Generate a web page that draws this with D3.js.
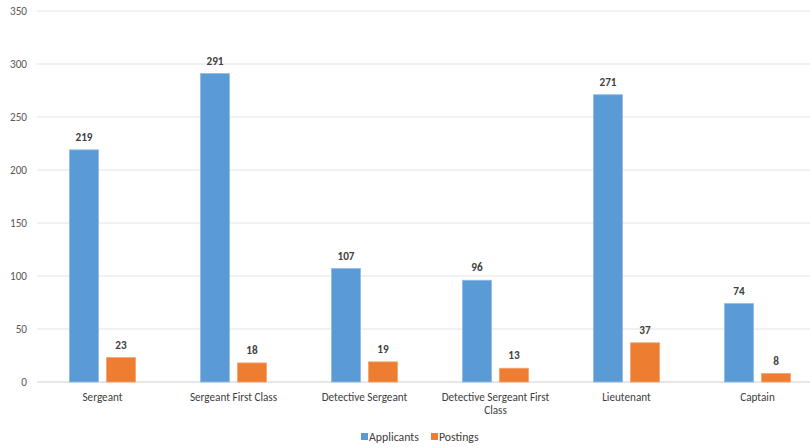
<!DOCTYPE html>
<html>
<head>
<meta charset="utf-8">
<script src="https://cdn.jsdelivr.net/npm/d3@7"></script>
<style>
  html, body { margin: 0; padding: 0; background: #fff; }
  svg { display: block; font-family: Carlito, Lato, "Open Sans", sans-serif; }
</style>
</head>
<body>
<svg id="chart" width="810" height="448"></svg>
<script>
// Promotion exam: applicants vs. postings by rank
const categories = ["Sergeant", "Sergeant First Class", "Detective Sergeant",
  "Detective Sergeant First Class", "Lieutenant", "Captain"];
const seriesNames = ["Applicants", "Postings"];
const applicants = [219, 291, 107, 96, 271, 74];
const postings = [23, 18, 19, 13, 37, 8];
const yTicks = [0, 50, 100, 150, 200, 250, 300, 350];
const colors = ["#5B9BD5", "#ED7D31"];

const svg = d3.select("#chart");
const plot = { left: 37, right: 823, top: 11, bottom: 382 };
const fs = 11.2;

const x = d3.scaleBand().domain(categories).range([plot.left, plot.right]).padding(0);
const inner = d3.scaleBand().domain(seriesNames).range([0, 66]).paddingInner(0.216);
const y = d3.scaleLinear().domain([0, 350]).range([plot.bottom, plot.top]);

// gridlines
svg.append("g").selectAll("line").data(yTicks).join("line")
  .attr("x1", plot.left).attr("x2", 810)
  .attr("y1", d => y(d)).attr("y2", d => y(d))
  .attr("stroke", d => d === 0 ? "#D0D0D0" : "#E3E3E3").attr("stroke-width", 1.2);

// y axis labels
const yAxis = d3.axisLeft(y).tickValues(yTicks).tickSize(0).tickPadding(0);
const ya = svg.append("g").attr("transform", `translate(${plot.left - 10},0)`).call(yAxis);
ya.select(".domain").remove();
ya.selectAll("text").attr("font-size", fs).attr("fill", "#595959")
  .attr("font-family", "Carlito, Lato, 'Open Sans', sans-serif");

const rows = categories.map((c, i) => ({ c, vals: [applicants[i], postings[i]] }));

const groups = svg.append("g").selectAll("g").data(rows).join("g")
  .attr("transform", d => `translate(${x(d.c) + x.bandwidth() / 2 - 33},0)`);

groups.selectAll("rect").data(d => d.vals.map((v, j) => ({ v, s: seriesNames[j], j })))
  .join("rect")
  .attr("x", d => inner(d.s))
  .attr("width", inner.bandwidth())
  .attr("y", d => y(d.v))
  .attr("height", d => y(0) - y(d.v))
  .attr("fill", d => colors[d.j])
  .attr("stroke", d => d.j === 0 ? "#8DBBE6" : "#F4A46E")
  .attr("stroke-width", 0.8);

groups.selectAll("text.val").data(d => d.vals.map((v, j) => ({ v, s: seriesNames[j] })))
  .join("text").attr("class", "val")
  .attr("x", d => inner(d.s) + inner.bandwidth() / 2)
  .attr("y", d => y(d.v) - 9)
  .attr("text-anchor", "middle")
  .attr("font-size", fs).attr("font-weight", "bold").attr("fill", "#404040")
  .text(d => d.v);

// category labels, wrapped when too wide for the band
const catG = svg.append("g");
categories.forEach(c => {
  const cx = x(c) + x.bandwidth() / 2;
  const t = catG.append("text").attr("x", cx).attr("y", 401)
    .attr("text-anchor", "middle").attr("font-size", fs).attr("fill", "#404040");
  const words = c.split(" ");
  let line = [], lines = [];
  const probe = catG.append("text").attr("font-size", fs);
  words.forEach(w => {
    const test = line.concat(w).join(" ");
    probe.text(test);
    if (probe.node().getComputedTextLength() > 125 && line.length) {
      lines.push(line.join(" ")); line = [w];
    } else line.push(w);
  });
  lines.push(line.join(" "));
  probe.remove();
  lines.forEach((l, k) => t.append("tspan").attr("x", cx).attr("dy", k ? 13 : 0).text(l));
});

// legend
const legend = svg.append("g");
const items = [{ n: seriesNames[0], x: 361 }, { n: seriesNames[1], x: 431 }];
items.forEach((it, i) => {
  legend.append("rect").attr("x", it.x).attr("y", 433).attr("width", 7).attr("height", 7)
    .attr("fill", colors[i]);
  legend.append("text").attr("x", it.x + 8).attr("y", 441)
    .attr("font-size", fs + 0.6).attr("fill", "#404040").text(it.n);
});
</script>
</body>
</html>
